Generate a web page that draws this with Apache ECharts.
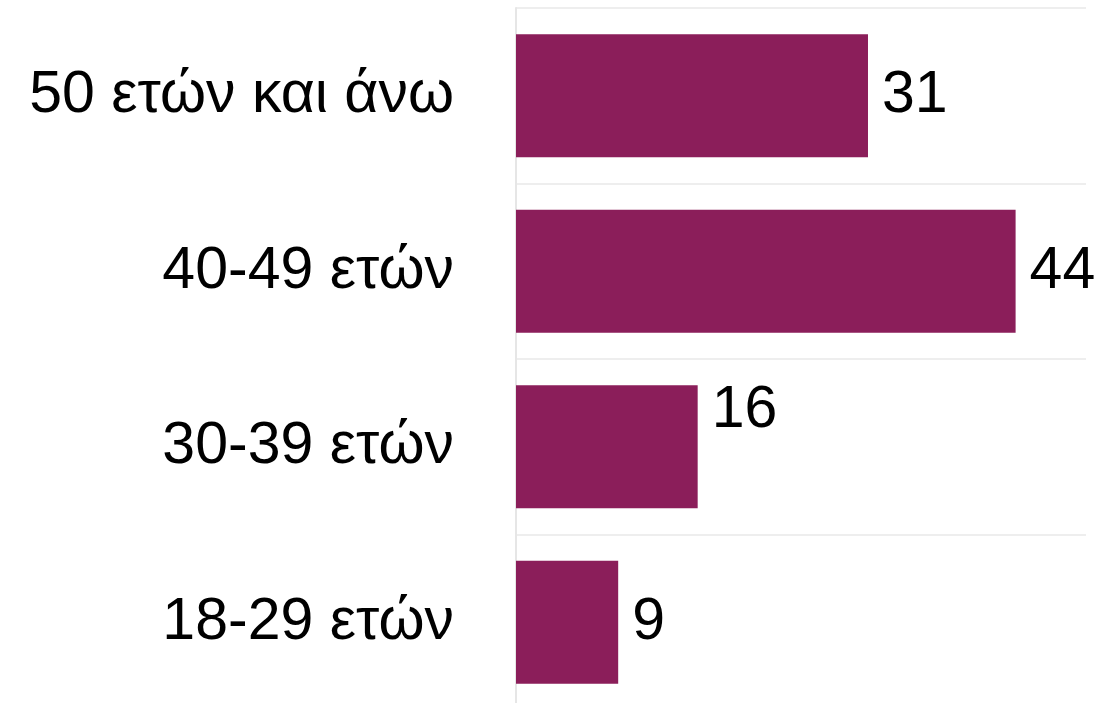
<!DOCTYPE html>
<html>
<head>
<meta charset="utf-8">
<script src="https://cdn.jsdelivr.net/npm/echarts@6/dist/echarts.min.js"></script>
<style>
  html, body { margin: 0; padding: 0; background: #fff; }
  #main { width: 1103px; height: 703px; }
</style>
</head>
<body>
<div id="main"></div>
<script>
// bottom-to-top order
const ageGroups = ['18-29 ετών', '30-39 ετών', '40-49 ετών', '50 ετών και άνω']
const shares = [9, 16, 44, 31]

const chart = echarts.init(document.getElementById('main'))

const option = {
  animation: false,
  grid: { left: 516, right: 17, top: 8, height: 702, outerBoundsMode: 'none' },
  xAxis: {
    type: 'value',
    min: 0,
    max: 50.2,
    show: false
  },
  yAxis: {
    type: 'category',
    data: ageGroups,
    axisLine: { show: true, lineStyle: { color: '#e6e6e6', width: 2 } },
    axisTick: { show: false },
    axisLabel: {
      color: '#000',
      fontFamily: 'Liberation Sans',
      fontSize: 59,
      margin: 62
    },
    splitLine: { show: true, lineStyle: { color: '#eeeeee', width: 2 } }
  },
  series: [
    {
      type: 'bar',
      barCategoryGap: '30%',
      data: shares.map((v, i) => ({
        value: v,
        // the 16 label sits higher in the original
        label: i === 1 ? { offset: [0, -36] } : undefined
      })),
      itemStyle: { color: '#8b1e5a' },
      label: {
        show: true,
        position: 'right',
        distance: 14,
        color: '#000',
        fontFamily: 'Liberation Sans',
        fontSize: 59
      }
    }
  ]
}
chart.setOption(option)
</script>
</body>
</html>
